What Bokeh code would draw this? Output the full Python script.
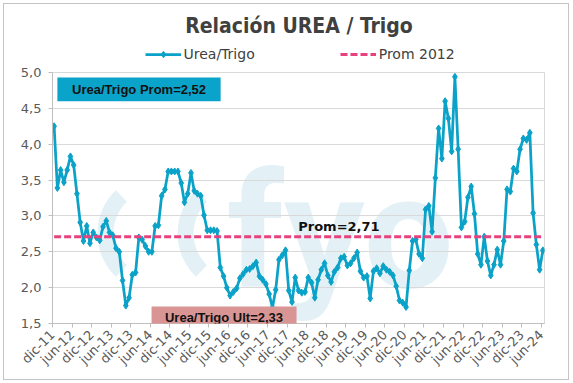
import math
from bokeh.plotting import figure
from bokeh.layouts import column
from bokeh.models import (Range1d, FixedTicker, Label, BoxAnnotation, Legend, LegendItem)
from bokeh.embed import file_html
from bokeh.resources import INLINE

# ---------------- data ----------------
# monthly Urea/Wheat price ratio, dic-11 .. jun-24
ratio = [
    4.25, 3.39, 3.64, 3.47, 3.64, 3.83, 3.71, 3.31, 2.91, 2.65,
    2.86, 2.62, 2.77, 2.70, 2.66, 2.85, 2.93, 2.77, 2.73, 2.55,
    2.50, 2.10, 1.75, 1.86, 2.18, 2.21, 2.70, 2.67, 2.58, 2.50,
    2.50, 2.86, 2.87, 3.28, 3.37, 3.62, 3.62, 3.62, 3.62, 3.46,
    3.19, 3.31, 3.60, 3.35, 3.31, 3.28, 3.01, 2.80, 2.80, 2.80,
    2.79, 2.28, 2.16, 2.00, 1.89, 1.94, 1.99, 2.13, 2.19, 2.25,
    2.26, 2.30, 2.35, 2.16, 2.11, 2.05, 1.91, 1.72, 1.97, 2.39,
    2.45, 2.52, 1.96, 1.80, 2.14, 1.96, 1.93, 1.94, 2.14, 2.07,
    1.86, 2.11, 2.25, 2.34, 2.17, 2.08, 2.22, 2.28, 2.41, 2.43,
    2.31, 2.34, 2.41, 2.49, 2.23, 2.14, 2.16, 1.85, 2.23, 2.27,
    2.20, 2.30, 2.25, 2.22, 2.17, 2.02, 1.82, 1.79, 1.73, 2.24,
    2.65, 2.67, 2.47, 2.41, 3.09, 3.14, 2.78, 3.53, 4.22, 3.80,
    4.60, 4.36, 3.90, 4.94, 3.93, 2.84, 2.92, 3.26, 3.41, 3.03,
    2.47, 2.32, 2.71, 2.37, 2.17, 2.32, 2.53, 2.32, 2.65, 3.37,
    3.34, 3.66, 3.62, 3.93, 4.08, 4.06, 4.16, 3.04, 2.60, 2.25,
    2.52,
]
prom_2012 = 2.71

x_tick_labels = ["dic-11", "jun-12", "dic-12", "jun-13", "dic-13", "jun-14",
                 "dic-14", "jun-15", "dic-15", "jun-16", "dic-16", "jun-17",
                 "dic-17", "jun-18", "dic-18", "jun-19", "dic-19", "jun-20",
                 "dic-20", "jun-21", "dic-21", "jun-22", "dic-22", "jun-23",
                 "dic-23", "jun-24"]
y_ticks = [1.5, 2.0, 2.5, 3.0, 3.5, 4.0, 4.5, 5.0]
y_tick_labels = ["1,5", "2,0", "2,5", "3,0", "3,5", "4,0", "4,5", "5,0"]

title_text = "Relación UREA / Trigo"
series_name = "Urea/Trigo"
prom_name = "Prom 2012"
box_prom_text = "Urea/Trigo Prom=2,52"
box_ult_text = "Urea/Trigo Ult=2,33"
prom_text = "Prom=2,71"

# ---------------- style ----------------
TEAL = "#0aa2c8"
PINK = "#e8417e"
BOX_BLUE = "#0aa3c9"
BOX_PINK = "#d99594"
WM = "#e3f1f6"
GRID = "#d9d9d9"
AXIS = "#bfbfbf"
TXT = "#595959"
DARK = "#404040"

W = 564
HEAD_H = 60
MAIN_H = 315
B_LEFT, B_RIGHT = 48, 24
FRAME_W = W - B_LEFT - B_RIGHT

n = len(ratio)
x = list(range(n))
step = 6

# ---------------- header: title + legend ----------------
head = figure(width=W, height=HEAD_H, output_backend="svg", toolbar_location=None,
              title=None, x_range=Range1d(0, FRAME_W), y_range=Range1d(0, HEAD_H),
              min_border_left=B_LEFT, min_border_right=B_RIGHT,
              min_border_top=0, min_border_bottom=0,
              x_axis_location=None, y_axis_location=None)
head.grid.visible = False
head.outline_line_color = None
head.background_fill_color = "white"
head.border_fill_color = "white"

head.add_layout(Label(x=246.5, y=38.8, text=title_text, text_align="center",
                      text_baseline="middle", text_font="DejaVu Sans Condensed",
                      text_font_style="bold", text_font_size="21px",
                      text_color=DARK))

# hidden copies of the series, only used to draw the legend samples
h_line = head.line(x, ratio, line_color=TEAL, line_width=2.75, visible=False)
h_pts = head.scatter(x, ratio, marker="diamond", size=7,
                     fill_color=TEAL, line_color=TEAL, visible=False)
h_prom = head.line(x, [prom_2012] * n, line_color=PINK, line_width=3,
                   line_dash="7 3", visible=False)
legend = Legend(items=[LegendItem(label=series_name, renderers=[h_line, h_pts]),
                       LegendItem(label=prom_name, renderers=[h_prom])],
                orientation="horizontal", location=(92.5, 2),
                glyph_width=36, glyph_height=16, label_height=16,
                label_standoff=3, spacing=85, padding=0, margin=0,
                border_line_alpha=0, background_fill_alpha=0,
                label_text_font="DejaVu Sans", label_text_font_size="14px",
                label_text_color=DARK)
head.add_layout(legend)

# ---------------- main chart ----------------
p = figure(width=W, height=MAIN_H, output_backend="svg", toolbar_location=None,
           title=None,
           x_range=Range1d(-0.5, n - 0.5), y_range=Range1d(y_ticks[0], y_ticks[-1]),
           min_border_left=B_LEFT, min_border_right=B_RIGHT, min_border_top=8,
           min_border_bottom=56)
p.background_fill_color = "white"
p.border_fill_color = "white"
p.outline_line_color = GRID

p.xaxis.ticker = FixedTicker(ticks=[k * step - 0.5 for k in range(len(x_tick_labels))])
p.xaxis.major_label_overrides = {k * step - 0.5: lab for k, lab in enumerate(x_tick_labels)}
p.xaxis.major_label_orientation = math.pi / 4
p.xaxis.major_tick_out = 4
p.xaxis.major_tick_in = 0
p.xaxis.minor_tick_line_color = None
p.xaxis.axis_line_color = AXIS
p.xaxis.major_tick_line_color = AXIS
p.xaxis.major_label_text_font = "DejaVu Sans"
p.xaxis.major_label_text_font_size = "13px"
p.xaxis.major_label_text_color = TXT
p.xaxis.major_label_standoff = 5

p.yaxis.ticker = FixedTicker(ticks=y_ticks)
p.yaxis.major_label_overrides = {t: lab for t, lab in zip(y_ticks, y_tick_labels)}
p.yaxis.major_tick_out = 4
p.yaxis.major_tick_in = 0
p.yaxis.minor_tick_line_color = None
p.yaxis.axis_line_color = AXIS
p.yaxis.major_tick_line_color = AXIS
p.yaxis.major_label_text_font = "DejaVu Sans"
p.yaxis.major_label_text_font_size = "13px"
p.yaxis.major_label_text_color = TXT
p.yaxis.major_label_standoff = 7

p.xgrid.grid_line_color = None
p.ygrid.grid_line_color = GRID

# watermark (decorative logo)
wm_y = 2.755
p.annular_wedge(x=[31.7, 56.3], y=[wm_y, wm_y], inner_radius=44, outer_radius=60,
                inner_radius_units="screen", outer_radius_units="screen",
                start_angle=math.radians(134), end_angle=math.radians(226),
                fill_color=WM, line_color=None, level="image")
p.add_layout(Label(x=53.0, y=2.77, text="fyo", text_font="Roboto",
                   text_font_style="bold", text_font_size="160px",
                   text_color=WM, text_align="left", text_baseline="alphabetic",
                   level="image"))

# series
r_line = p.line(x, ratio, line_color=TEAL, line_width=2.75)
r_pts = p.scatter(x, ratio, marker="diamond", size=7, fill_color=TEAL, line_color=TEAL)
r_prom = p.line(x, [prom_2012] * n, line_color=PINK, line_width=3, line_dash="7 3")

# annotation boxes
p.add_layout(BoxAnnotation(left=1.0, right=51.1, top=4.93, bottom=4.60,
                           fill_color=BOX_BLUE, fill_alpha=1, line_alpha=0))
p.add_layout(Label(x=26.05, y=4.763, text=box_prom_text, text_align="center",
                   text_baseline="middle", text_font="Liberation Sans",
                   text_font_style="bold", text_font_size="13px", text_color="#111111"))
p.add_layout(BoxAnnotation(left=29.9, right=74.4, top=1.736, bottom=1.443,
                           fill_color=BOX_PINK, fill_alpha=1, line_alpha=0))
p.add_layout(Label(x=52.14, y=1.59, text=box_ult_text, text_align="center",
                   text_baseline="middle", text_font="Liberation Sans",
                   text_font_style="bold", text_font_size="13px", text_color="#111111"))
p.add_layout(Label(x=87.4, y=2.859, text=prom_text, text_align="center",
                   text_baseline="middle", text_font="DejaVu Sans",
                   text_font_style="bold", text_font_size="13px", text_color="#111111"))

layout = column(head, p, spacing=0,
                styles={"border": "1px solid #c4c4c4", "margin-left": "3px",
                        "margin-top": "3px", "background": "white"})

open("out.html", "w").write(file_html(layout, INLINE))
